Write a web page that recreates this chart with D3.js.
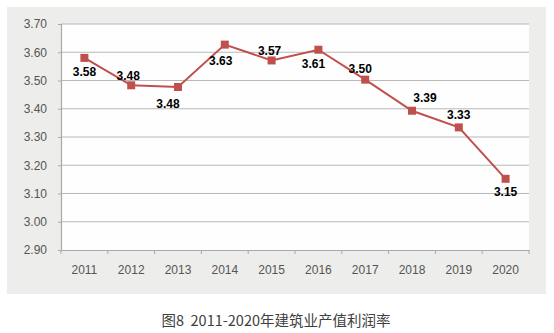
<!DOCTYPE html>
<html><head><meta charset="utf-8">
<script src="https://cdn.jsdelivr.net/npm/d3@7"></script>
<style>
html,body{margin:0;padding:0;background:#fff;}
svg{display:block;}
</style></head>
<body>
<svg id="c" width="554" height="333"></svg>
<script>
const years = ["2011","2012","2013","2014","2015","2016","2017","2018","2019","2020"];
const rates = [3.58, 3.483, 3.477, 3.627, 3.571, 3.609, 3.503, 3.393, 3.334, 3.152];
const yTicks = [2.90, 3.00, 3.10, 3.20, 3.30, 3.40, 3.50, 3.60, 3.70];
const labelDx = [0, -3, -10, -4, -2, -5, -5, 13, 0, 0];
const labelDy = [14, -10, 17, 16, -10, 14, -11, -13, -13, 13];
const caption = "图8  2011-2020年建筑业产值利润率";

const svg = d3.select("#c");
const m = {left: 61, right: 529, top: 24, bottom: 250};

svg.append("rect").attr("x", 7).attr("y", 7).attr("width", 539).attr("height", 287).attr("fill", "#ededeb");
svg.append("rect").attr("x", m.left).attr("y", m.top).attr("width", m.right - m.left).attr("height", m.bottom - m.top).attr("fill", "#fefefe");

const x = d3.scaleBand().domain(years).range([m.left, m.right]);
const y = d3.scaleLinear().domain([2.9, 3.7]).range([m.bottom, m.top]);

// gridlines
svg.append("g").selectAll("line").data(yTicks.slice(1)).join("line")
  .attr("x1", m.left).attr("x2", m.right)
  .attr("y1", d => y(d)).attr("y2", d => y(d))
  .attr("stroke", "#b8b8b8").attr("stroke-width", 1.2);

// y axis
const yAxis = d3.axisLeft(y).tickValues(yTicks).tickFormat(d3.format(".2f")).tickSize(3).tickPadding(11);
const gy = svg.append("g").attr("transform", `translate(${m.left},0)`).call(yAxis);
gy.select(".domain").attr("stroke", "#aaaaaa").attr("stroke-width", 1.2);
gy.selectAll(".tick line").attr("stroke", "#aaaaaa");
gy.selectAll("text").attr("fill", "#555").style("font", "12px Arial, 'Liberation Sans', sans-serif");

// x axis
const xAxis = d3.axisBottom(x).tickSize(0).tickPadding(15);
const gx = svg.append("g").attr("transform", `translate(0,${m.bottom})`).call(xAxis);
gx.select(".domain").attr("stroke", "#aaaaaa").attr("stroke-width", 1.2);
gx.selectAll("text").attr("fill", "#555").style("font", "12px Arial, 'Liberation Sans', sans-serif");
// boundary ticks
const bounds = years.map(d => x(d)).concat([m.right]);
gx.append("g").selectAll("line").data(bounds).join("line")
  .attr("x1", d => d).attr("x2", d => d).attr("y1", 0).attr("y2", 4)
  .attr("stroke", "#aaaaaa");

// line
const data = years.map((yr, i) => ({yr, v: rates[i], i}));
const cx = d => x(d.yr) + x.bandwidth() / 2;
svg.append("path").datum(data)
  .attr("d", d3.line().x(cx).y(d => y(d.v)))
  .attr("fill", "none").attr("stroke", "#c0504d").attr("stroke-width", 2);

svg.append("g").selectAll("rect").data(data).join("rect")
  .attr("x", d => cx(d) - 4).attr("y", d => y(d.v) - 4)
  .attr("width", 8).attr("height", 8).attr("fill", "#c0504d");

svg.append("g").selectAll("text").data(data).join("text")
  .attr("x", d => cx(d) + labelDx[d.i])
  .attr("y", d => y(d.v) + labelDy[d.i])
  .attr("dy", "0.35em")
  .attr("text-anchor", "middle")
  .attr("fill", "#000")
  .style("font", "bold 12px Arial, 'Liberation Sans', sans-serif")
  .text(d => d3.format(".2f")(d.v));

svg.append("text").attr("x", 276).attr("y", 321).attr("dy", "0.35em")
  .attr("text-anchor", "middle").attr("fill", "#404040")
  .style("font", "14.5px 'Noto Sans CJK SC', 'Noto Sans', sans-serif")
  .style("white-space", "pre")
  .text(caption);
</script>
</body></html>
